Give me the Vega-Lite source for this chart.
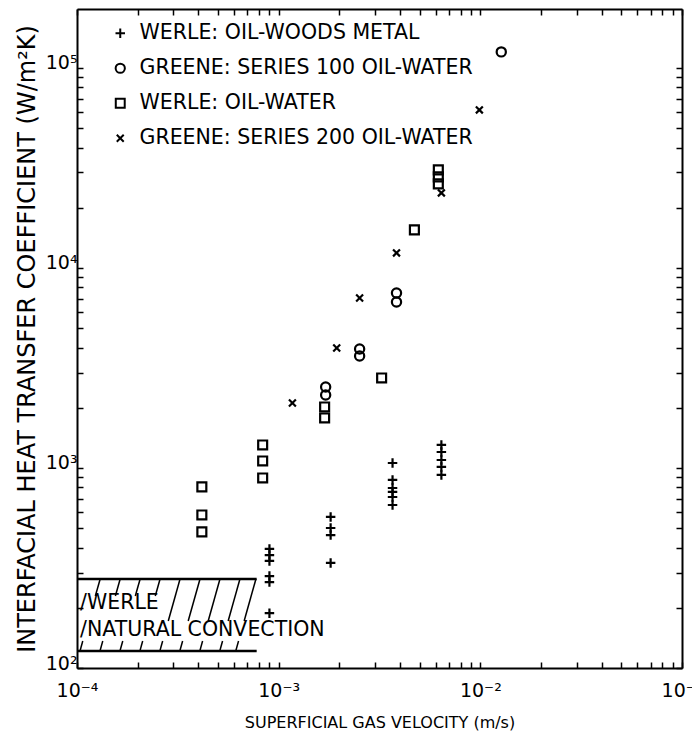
{
  "$schema": "https://vega.github.io/schema/vega-lite/v6.json",
  "width": 605,
  "height": 659,
  "autosize": {"type": "none"},
  "padding": {"left": 77, "top": 9, "right": 10, "bottom": 70},
  "background": "white",
  "config": {
    "view": {"stroke": null},
    "font": "DejaVu Sans",
    "axis": {
      "grid": false,
      "ticks": true,
      "domainColor": "black",
      "domainWidth": 2,
      "tickColor": "black",
      "tickWidth": 1.5,
      "tickSize": -6,
      "labelColor": "black",
      "labelFont": "DejaVu Sans",
      "labelFontSize": 19,
      "labelFlush": false,
      "labelOverlap": false,
      "titleColor": "black",
      "titleFont": "DejaVu Sans",
      "titleFontWeight": "normal"
    }
  },
  "datasets": {
    "points": [
      {"series": "WERLE: OIL-WOODS METAL", "x": 0.0009, "y": 394},
      {"series": "WERLE: OIL-WOODS METAL", "x": 0.0009, "y": 367},
      {"series": "WERLE: OIL-WOODS METAL", "x": 0.0009, "y": 343},
      {"series": "WERLE: OIL-WOODS METAL", "x": 0.0009, "y": 288},
      {"series": "WERLE: OIL-WOODS METAL", "x": 0.0009, "y": 269},
      {"series": "WERLE: OIL-WOODS METAL", "x": 0.0009, "y": 188},
      {"series": "WERLE: OIL-WOODS METAL", "x": 0.00181, "y": 569},
      {"series": "WERLE: OIL-WOODS METAL", "x": 0.00181, "y": 501},
      {"series": "WERLE: OIL-WOODS METAL", "x": 0.00181, "y": 462},
      {"series": "WERLE: OIL-WOODS METAL", "x": 0.00181, "y": 335},
      {"series": "WERLE: OIL-WOODS METAL", "x": 0.00367, "y": 1059},
      {"series": "WERLE: OIL-WOODS METAL", "x": 0.00367, "y": 871},
      {"series": "WERLE: OIL-WOODS METAL", "x": 0.00367, "y": 794},
      {"series": "WERLE: OIL-WOODS METAL", "x": 0.00367, "y": 759},
      {"series": "WERLE: OIL-WOODS METAL", "x": 0.00367, "y": 716},
      {"series": "WERLE: OIL-WOODS METAL", "x": 0.00367, "y": 653},
      {"series": "WERLE: OIL-WOODS METAL", "x": 0.00641, "y": 1303},
      {"series": "WERLE: OIL-WOODS METAL", "x": 0.00641, "y": 1202},
      {"series": "WERLE: OIL-WOODS METAL", "x": 0.00641, "y": 1096},
      {"series": "WERLE: OIL-WOODS METAL", "x": 0.00641, "y": 1012},
      {"series": "WERLE: OIL-WOODS METAL", "x": 0.00641, "y": 923},
      {"series": "GREENE: SERIES 100 OIL-WATER", "x": 0.00171, "y": 2541},
      {"series": "GREENE: SERIES 100 OIL-WATER", "x": 0.00171, "y": 2317},
      {"series": "GREENE: SERIES 100 OIL-WATER", "x": 0.00252, "y": 3936},
      {"series": "GREENE: SERIES 100 OIL-WATER", "x": 0.00252, "y": 3631},
      {"series": "GREENE: SERIES 100 OIL-WATER", "x": 0.00384, "y": 7499},
      {"series": "GREENE: SERIES 100 OIL-WATER", "x": 0.00384, "y": 6761},
      {"series": "GREENE: SERIES 100 OIL-WATER", "x": 0.0127, "y": 120226},
      {"series": "WERLE: OIL-WATER", "x": 0.000416, "y": 804},
      {"series": "WERLE: OIL-WATER", "x": 0.000416, "y": 582},
      {"series": "WERLE: OIL-WATER", "x": 0.000416, "y": 479},
      {"series": "WERLE: OIL-WATER", "x": 0.000833, "y": 1303},
      {"series": "WERLE: OIL-WATER", "x": 0.000833, "y": 1084},
      {"series": "WERLE: OIL-WATER", "x": 0.000833, "y": 891},
      {"series": "WERLE: OIL-WATER", "x": 0.00169, "y": 2018},
      {"series": "WERLE: OIL-WATER", "x": 0.00169, "y": 1778},
      {"series": "WERLE: OIL-WATER", "x": 0.00324, "y": 2818},
      {"series": "WERLE: OIL-WATER", "x": 0.00471, "y": 15488},
      {"series": "WERLE: OIL-WATER", "x": 0.00619, "y": 30903},
      {"series": "WERLE: OIL-WATER", "x": 0.00619, "y": 28510},
      {"series": "WERLE: OIL-WATER", "x": 0.00619, "y": 26303},
      {"series": "GREENE: SERIES 200 OIL-WATER", "x": 0.00117, "y": 2113},
      {"series": "GREENE: SERIES 200 OIL-WATER", "x": 0.00194, "y": 3981},
      {"series": "GREENE: SERIES 200 OIL-WATER", "x": 0.00252, "y": 7079},
      {"series": "GREENE: SERIES 200 OIL-WATER", "x": 0.00384, "y": 11885},
      {"series": "GREENE: SERIES 200 OIL-WATER", "x": 0.00641, "y": 23714},
      {"series": "GREENE: SERIES 200 OIL-WATER", "x": 0.00989, "y": 61660}
    ],
    "hatch": [
      {"x": 0.0001035, "y": 121.6, "x2": 0.0001068, "y2": 136.5},
      {"x": 0.0001233, "y": 229.1, "x2": 0.0001303, "y2": 278.6},
      {"x": 0.00013, "y": 121.6, "x2": 0.0001342, "y2": 136.5},
      {"x": 0.000155, "y": 229.1, "x2": 0.0001637, "y2": 278.6},
      {"x": 0.0001633, "y": 121.6, "x2": 0.0001686, "y2": 136.5},
      {"x": 0.0001946, "y": 229.1, "x2": 0.0002056, "y2": 278.6},
      {"x": 0.0002051, "y": 121.6, "x2": 0.0002117, "y2": 136.5},
      {"x": 0.0002444, "y": 229.1, "x2": 0.0002582, "y2": 278.6},
      {"x": 0.0002576, "y": 121.6, "x2": 0.0002659, "y2": 136.5},
      {"x": 0.0002835, "y": 171.8, "x2": 0.0003243, "y2": 278.6},
      {"x": 0.0003235, "y": 121.6, "x2": 0.000334, "y2": 136.5},
      {"x": 0.000356, "y": 171.8, "x2": 0.0004073, "y2": 278.6},
      {"x": 0.0004064, "y": 121.6, "x2": 0.0004196, "y2": 136.5},
      {"x": 0.0004473, "y": 171.8, "x2": 0.0005116, "y2": 278.6},
      {"x": 0.0005105, "y": 121.6, "x2": 0.000527, "y2": 136.5},
      {"x": 0.0005617, "y": 171.8, "x2": 0.0006427, "y2": 278.6},
      {"x": 0.0006126, "y": 121.6, "x2": 0.0006325, "y2": 136.5},
      {"x": 0.0006743, "y": 171.8, "x2": 0.0007713, "y2": 278.6}
    ],
    "band": [
      {"x": 0.0001, "x2": 0.000778, "y": 278.6, "y2": 278.6},
      {"x": 0.0001, "x2": 0.000778, "y": 121.6, "y2": 121.6}
    ],
    "notes": [
      {"x": 0.0001035, "y": 212, "label": "/WERLE"},
      {"x": 0.0001035, "y": 155, "label": "/NATURAL CONVECTION"}
    ]
  },
  "layer": [
    {
      "data": {"name": "points"},
      "mark": {"type": "point", "filled": false, "strokeWidth": 2.2, "color": "black", "opacity": 1},
      "encoding": {
        "x": {
          "field": "x", "type": "quantitative",
          "scale": {"type": "log", "domain": [0.0001, 0.1], "nice": false},
          "axis": {
            "orient": "bottom",
            "values": [0.0001, 0.0002, 0.0003, 0.0004, 0.0005, 0.0006, 0.0007, 0.0008, 0.0009, 0.001, 0.002, 0.003, 0.004, 0.005, 0.006, 0.007, 0.008, 0.009, 0.01, 0.02, 0.03, 0.04, 0.05, 0.06, 0.07, 0.08, 0.09, 0.1],
            "labelExpr": "datum.value == 0.0001 ? '10⁻⁴' : datum.value == 0.001 ? '10⁻³' : datum.value == 0.01 ? '10⁻²' : datum.value == 0.1 ? '10⁻¹' : ''",
            "labelPadding": 19,
            "title": "SUPERFICIAL GAS VELOCITY (m/s)",
            "titleFontSize": 16,
            "titlePadding": 14,
            "encode": {"ticks": {"update": {"y2": {"signal": "abs(log(datum.value)/LN10 - round(log(datum.value)/LN10)) < 0.001 ? -9 : -5"}}}}
          }
        },
        "y": {
          "field": "y", "type": "quantitative",
          "scale": {"type": "log", "domain": [100, 197000], "nice": false},
          "axis": {
            "orient": "left",
            "values": [100, 200, 300, 400, 500, 600, 700, 800, 900, 1000, 2000, 3000, 4000, 5000, 6000, 7000, 8000, 9000, 10000, 20000, 30000, 40000, 50000, 60000, 70000, 80000, 90000, 100000],
            "labelExpr": "datum.value == 100 ? '10²' : datum.value == 1000 ? '10³' : datum.value == 10000 ? '10⁴' : datum.value == 100000 ? '10⁵' : ''",
            "labelPadding": 6,
            "labelOffset": -5,
            "title": "INTERFACIAL HEAT TRANSFER COEFFICIENT (W/m²K)",
            "titleFontSize": 24,
            "titlePadding": 6,
            "encode": {"ticks": {"update": {"x2": {"signal": "abs(log(datum.value)/LN10 - round(log(datum.value)/LN10)) < 0.001 ? 12 : 7"}}}}
          }
        },
        "shape": {
          "field": "series", "type": "nominal",
          "scale": {
            "domain": ["WERLE: OIL-WOODS METAL", "GREENE: SERIES 100 OIL-WATER", "WERLE: OIL-WATER", "GREENE: SERIES 200 OIL-WATER"],
            "range": ["M-1,0L1,0M0,-1L0,1", "circle", "square", "M-0.8,-0.8L0.8,0.8M-0.8,0.8L0.8,-0.8"]
          },
          "legend": {
            "title": null,
            "orient": "none",
            "legendX": 33,
            "legendY": 14,
            "padding": 0,
            "labelFont": "DejaVu Sans",
            "labelFontSize": 20.5,
            "labelColor": "black",
            "labelLimit": 500,
            "labelOffset": 9,
            "rowPadding": 14,
            "symbolStrokeWidth": 2,
            "symbolStrokeColor": "black"
          }
        },
        "size": {
          "field": "series", "type": "nominal",
          "scale": {
            "domain": ["WERLE: OIL-WOODS METAL", "GREENE: SERIES 100 OIL-WATER", "WERLE: OIL-WATER", "GREENE: SERIES 200 OIL-WATER"],
            "range": [90, 75, 70, 120]
          }
        }
      }
    },
    {
      "data": {"name": "hatch"},
      "mark": {"type": "rule", "color": "black", "strokeWidth": 1.5},
      "encoding": {
        "x": {
          "field": "x", "type": "quantitative",
          "scale": {"type": "log", "domain": [0.0001, 0.1], "nice": false},
          "axis": {
            "orient": "top",
            "values": [0.0001, 0.0002, 0.0003, 0.0004, 0.0005, 0.0006, 0.0007, 0.0008, 0.0009, 0.001, 0.002, 0.003, 0.004, 0.005, 0.006, 0.007, 0.008, 0.009, 0.01, 0.02, 0.03, 0.04, 0.05, 0.06, 0.07, 0.08, 0.09, 0.1],
            "labels": false,
            "title": null,
            "encode": {"ticks": {"update": {"y2": {"signal": "abs(log(datum.value)/LN10 - round(log(datum.value)/LN10)) < 0.001 ? 13 : 7"}}}}
          }
        },
        "x2": {"field": "x2"},
        "y": {
          "field": "y", "type": "quantitative",
          "scale": {"type": "log", "domain": [100, 197000], "nice": false},
          "axis": {
            "orient": "right",
            "values": [100, 200, 300, 400, 500, 600, 700, 800, 900, 1000, 2000, 3000, 4000, 5000, 6000, 7000, 8000, 9000, 10000, 20000, 30000, 40000, 50000, 60000, 70000, 80000, 90000, 100000],
            "labels": false,
            "title": null,
            "encode": {"ticks": {"update": {"x2": {"signal": "abs(log(datum.value)/LN10 - round(log(datum.value)/LN10)) < 0.001 ? -13 : -7"}}}}
          }
        },
        "y2": {"field": "y2"}
      }
    },
    {
      "data": {"name": "band"},
      "mark": {"type": "rule", "color": "black", "strokeWidth": 2.5},
      "encoding": {
        "x": {"field": "x", "type": "quantitative", "scale": {"type": "log", "domain": [0.0001, 0.1], "nice": false}, "axis": null},
        "x2": {"field": "x2"},
        "y": {"field": "y", "type": "quantitative", "scale": {"type": "log", "domain": [100, 197000], "nice": false}, "axis": null},
        "y2": {"field": "y2"}
      }
    },
    {
      "data": {"name": "notes"},
      "mark": {"type": "text", "align": "left", "baseline": "middle", "fontSize": 20.5, "font": "DejaVu Sans", "color": "black"},
      "encoding": {
        "x": {"field": "x", "type": "quantitative", "scale": {"type": "log", "domain": [0.0001, 0.1], "nice": false}, "axis": null},
        "y": {"field": "y", "type": "quantitative", "scale": {"type": "log", "domain": [100, 197000], "nice": false}, "axis": null},
        "text": {"field": "label"}
      }
    }
  ],
  "resolve": {"axis": {"x": "independent", "y": "independent"}}
}
